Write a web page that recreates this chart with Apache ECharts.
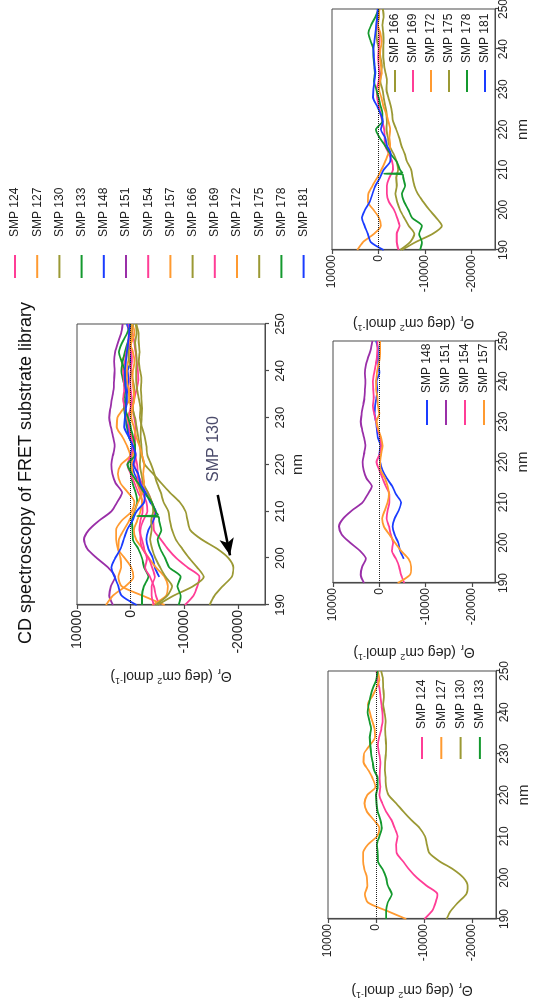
<!DOCTYPE html>
<html>
<head>
<meta charset="utf-8">
<script src="https://cdn.jsdelivr.net/npm/echarts@6/dist/echarts.min.js"></script>
<style>
  html, body { margin: 0; padding: 0; background: #fff; overflow: hidden; width: 535px; height: 1005px; }
  /* The figure is laid out landscape and turned a quarter turn counter-clockwise */
  #fig { position: absolute; left: 0; top: 0; width: 1005px; height: 535px;
         transform-origin: 0 0; transform: translate(0px, 1005px) rotate(-90deg); background: #fff; }
</style>
</head>
<body>
<div id="fig"></div>
<script>
// Wavelength grid (nm)
const nm = [190,192,194,196,198,200,202,204,206,208,210,212,214,216,218,220,222,224,226,228,230,232,234,236,238,240,242,244,246,248,250];
const nm148 = [196,198,200,202,204,206,208,210,212,214,216,218,220,222,224,226,228,230,232,234,236,238,240,242,244,246,248,250];
const nm178 = [190,192,194,196,198,200,202,204,206,208,208.8,209,209.2,210,212,214,216,218,220,222,224,226,228,230,232,234,236,238,240,242,244,246,248,250];

// Mean residue ellipticity (deg cm2 dmol-1)
const smp124 = [-10100,-11700,-12400,-12800,-10600,-8500,-6900,-5600,-4300,-4200,-4500,-3900,-3200,-2100,-1300,-700,-900,-750,-800,-900,-650,-400,-650,-1100,-1400,-1350,-1100,-900,-700,-350,-100];
const smp127 = [-6300,-2200,1700,2300,1800,1900,2400,2700,2700,1700,-200,-700,500,1900,2400,1800,100,700,1600,2600,2500,1300,200,300,800,1300,1700,700,-100,-700,-350];
const smp130 = [-14700,-15600,-17100,-18800,-19100,-18200,-16100,-13200,-11100,-10600,-10200,-9100,-7300,-5700,-4200,-2600,-2100,-2000,-1850,-1900,-2050,-2100,-2000,-1900,-2000,-1750,-1500,-1650,-1500,-1450,-1050];
const smp133 = [-2100,-2100,-2450,-3300,-2500,-2100,-1400,-400,-350,-200,-700,-1200,-900,-350,-100,0,-350,-350,400,700,1000,1200,1300,1000,1400,1750,1500,1100,600,-100,-350];
const smp148 = [-5300,-4500,-4100,-3300,-2900,-3300,-4200,-4700,-3600,-2800,-1600,-700,-200,0,-300,300,500,700,1000,900,600,400,600,0,200,300,300,700];
const smp151 = [3300,4000,3700,2900,4200,6300,8100,8700,7800,5900,3600,2500,1600,2800,3400,3600,3300,3000,3300,3700,4000,3800,3500,3200,3100,3000,3100,2900,2400,1800,1500];
const smp154 = [-5400,-4700,-4300,-3600,-2700,-3000,-2500,-2100,-1600,-1800,-2200,-2200,-1400,-700,0,600,-100,-400,-200,300,700,1100,1400,1200,1300,1400,1100,800,500,400,400];
const smp157 = [-4000,-6600,-6900,-6300,-4700,-3400,-2200,-1000,-600,-1200,-1800,-2100,-1800,-1200,-300,-200,-400,-700,-400,200,600,0,300,400,700,700,500,200,-100,-200,-200];
const smp166 = [-4600,-6800,-7700,-6500,-5500,-4600,-4000,-3600,-3900,-3800,-4200,-3900,-3200,-2300,-2000,-1700,-1800,-1700,-1400,-1100,-800,-400,-500,-700,-400,-100,300,500,300,-100,0];
const smp169 = [-4300,-3900,-3900,-4500,-4000,-3300,-2200,-1800,-1800,-2300,-3100,-2900,-2200,-1400,-1300,-1200,-800,-400,0,300,400,0,-200,0,100,0,-200,-100,200,300,0];
const smp172 = [4600,3300,1000,-500,-100,1100,2300,2200,1300,300,-600,-1400,-2100,-2500,-2300,-2500,-2100,-1600,-1000,-600,-100,-300,-700,-500,-300,-400,-700,-400,100,0,-200];
const smp175 = [-5000,-8000,-11600,-13600,-12400,-10900,-9600,-8400,-7700,-7300,-7000,-6100,-5600,-4900,-4400,-3800,-3100,-2900,-2600,-2100,-1700,-1800,-1500,-1200,-1000,-1000,-1100,-1000,-800,-1100,-900];
const smp178 = [-8900,-9300,-8700,-9300,-7200,-6400,-5500,-5000,-5700,-5300,-5200,-1200,-5100,-4600,-3900,-2500,-1400,-200,600,-800,-800,-400,0,500,1000,800,900,1100,1100,1700,2200,1600,700,0];
const smp181 = [-1100,1700,2300,3000,3600,2900,1900,1300,700,-300,-1100,-2500,-2600,-1800,-1400,-500,-900,-400,400,1200,1100,900,700,900,1000,1100,900,700,500,300,200];

// Axis ticks
const thetaTicks = [-20000, -10000, 0, 10000];

const PINK = '#ff3d96', ORANGE = '#ff9a30', OLIVE = '#9b9934', GREEN = '#14992e', BLUE = '#1a3cff', PURPLE = '#9a2fa8';

const samples = [
  { name: 'SMP 124', color: PINK,   x: nm,    y: smp124 },
  { name: 'SMP 127', color: ORANGE, x: nm,    y: smp127 },
  { name: 'SMP 130', color: OLIVE,  x: nm,    y: smp130 },
  { name: 'SMP 133', color: GREEN,  x: nm,    y: smp133 },
  { name: 'SMP 148', color: BLUE,   x: nm148, y: smp148 },
  { name: 'SMP 151', color: PURPLE, x: nm,    y: smp151 },
  { name: 'SMP 154', color: PINK,   x: nm,    y: smp154 },
  { name: 'SMP 157', color: ORANGE, x: nm,    y: smp157 },
  { name: 'SMP 166', color: OLIVE,  x: nm,    y: smp166 },
  { name: 'SMP 169', color: PINK,   x: nm,    y: smp169 },
  { name: 'SMP 172', color: ORANGE, x: nm,    y: smp172 },
  { name: 'SMP 175', color: OLIVE,  x: nm,    y: smp175 },
  { name: 'SMP 178', color: GREEN,  x: nm178, y: smp178 },
  { name: 'SMP 181', color: BLUE,   x: nm,    y: smp181 }
];

// Grid 0 = overview of every sample, grids 1-3 = the three sub-groups
const groups = [
  samples.map((s, i) => i),
  [0, 1, 2, 3],
  [4, 5, 6, 7],
  [8, 9, 10, 11, 12, 13]
];

const FONT = "'Liberation Sans', Arial, Helvetica, sans-serif";
const AXIS_COLOR = '#4a4a4a';

const gridBoxes = [
  { left: 400, top: 77,  width: 281, height: 188 },
  { left: 86,  top: 328, width: 248, height: 168 },
  { left: 422, top: 333, width: 242, height: 162 },
  { left: 755, top: 332, width: 241, height: 163 }
];
const thetaLabelSize = [14, 12, 12, 12];
const thetaNameGap = [62, 62, 60, 64];
const nmLabelSize = [13, 12, 12, 12];
const nmLabelMargin = [9, 3, 3, 3];
const nmNameGap = [25, 20, 20, 20];

const thetaName = '{t|Θ}{s|r}{t| (deg cm}{p|2}{t| dmol}{p|-1}{t|)}';

const grids = gridBoxes.map(b => Object.assign({
  show: true, borderColor: AXIS_COLOR, borderWidth: 1, containLabel: false, outerBoundsMode: 'none'
}, b));

const xAxes = gridBoxes.map((b, g) => ({
  type: 'value', gridIndex: g, min: 190, max: 250, interval: 10,
  name: 'nm', nameLocation: 'middle', nameGap: nmNameGap[g],
  nameTextStyle: { fontFamily: FONT, fontSize: 15, color: '#222' },
  axisLine: { show: true, onZero: false, lineStyle: { color: AXIS_COLOR, width: 1.2 } },
  axisTick: { show: true, inside: false, length: 4, lineStyle: { color: AXIS_COLOR, width: 1.2 } },
  axisLabel: { fontFamily: FONT, fontSize: nmLabelSize[g], color: '#222', margin: nmLabelMargin[g] },
  splitLine: { show: false }
}));

const yAxes = gridBoxes.map((b, g) => ({
  type: 'value', gridIndex: g, min: -25000, max: 10000,
  name: thetaName, nameLocation: 'middle', nameRotate: 90, nameGap: thetaNameGap[g],
  nameTextStyle: {
    fontFamily: FONT, fontSize: 14, color: '#222',
    rich: {
      t: { fontFamily: FONT, fontSize: 14, color: '#222', lineHeight: 18 },
      s: { fontFamily: FONT, fontSize: 9, color: '#222', verticalAlign: 'bottom', lineHeight: 18, padding: [0, 1, 0, 0] },
      p: { fontFamily: FONT, fontSize: 9, color: '#222', verticalAlign: 'top', lineHeight: 18 }
    }
  },
  axisLine: { show: true, onZero: false, lineStyle: { color: AXIS_COLOR, width: 1.2 } },
  axisTick: { show: true, inside: false, length: 4, customValues: thetaTicks, lineStyle: { color: AXIS_COLOR, width: 1.2 } },
  axisLabel: { fontFamily: FONT, fontSize: thetaLabelSize[g], color: '#222', margin: 5,
               customValues: thetaTicks, formatter: v => String(v) },
  splitLine: { show: false }
}));

const zeroLine = {
  silent: true, symbol: ['none', 'none'], label: { show: false },
  lineStyle: { type: 'dotted', color: '#222', width: 1 },
  emphasis: { disabled: true },
  data: [{ yAxis: 0 }]
};

const series = [];
groups.forEach((members, g) => {
  members.forEach((idx, k) => {
    const s = samples[idx];
    const item = {
      type: 'line', name: s.name, xAxisIndex: g, yAxisIndex: g,
      data: s.x.map((x, i) => [x, s.y[i]]),
      showSymbol: false, symbol: 'none', smooth: 0.25,
      lineStyle: { color: s.color, width: 1.8 },
      itemStyle: { color: s.color },
      emphasis: { disabled: true },
      z: 2
    };
    if (k === 0) item.markLine = zeroLine;
    if (g === 0 && s.name === 'SMP 130') {
      // pointer to the deep minimum of SMP 130 in the overview
      item.markLine = {
        silent: true, symbol: ['none', 'arrow'], symbolSize: [11, 17],
        label: { show: false },
        lineStyle: { type: 'solid', color: '#000', width: 2.6 },
        emphasis: { disabled: true },
        data: [[{ coord: [213.5, -16200] }, { coord: [200.6, -18500] }]]
      };
      item.markPoint = {
        silent: true, symbol: 'rect', symbolSize: 0,
        label: { show: true, position: 'inside', formatter: 'SMP 130',
                 fontFamily: FONT, fontSize: 16, color: '#4b4b6b' },
        data: [{ coord: [223.3, -15500] }]
      };
    }
    series.push(item);
  });
});

const legendBase = {
  orient: 'vertical', selectedMode: false, icon: 'rect', itemHeight: 2,
  textStyle: { fontFamily: FONT, fontSize: 12, color: '#222' },
  padding: 0
};
const legends = [
  Object.assign({}, legendBase, { left: 727, top: 9, itemWidth: 23, itemGap: 10.2,
    data: samples.map(s => s.name),
    textStyle: Object.assign({}, legendBase.textStyle, { padding: [0, 0, 0, 13] }) }),
  Object.assign({}, legendBase, { left: 246, top: 416, itemWidth: 22, itemGap: 7.3,
    data: groups[1].map(i => samples[i].name),
    textStyle: Object.assign({}, legendBase.textStyle, { padding: [0, 0, 0, 3] }) }),
  Object.assign({}, legendBase, { left: 580, top: 421, itemWidth: 25, itemGap: 7,
    data: groups[2].map(i => samples[i].name),
    textStyle: Object.assign({}, legendBase.textStyle, { padding: [0, 0, 0, 2] }) }),
  Object.assign({}, legendBase, { left: 913, top: 389, itemWidth: 22, itemGap: 6,
    data: groups[3].map(i => samples[i].name),
    textStyle: Object.assign({}, legendBase.textStyle, { padding: [0, 0, 0, 2] }) })
];

const chart = echarts.init(document.getElementById('fig'), null, { renderer: 'canvas' });
chart.setOption({
  animation: false,
  backgroundColor: '#fff',
  textStyle: { fontFamily: FONT },
  graphic: [{
    type: 'text', x: 532, y: 17, silent: true,
    style: { text: 'CD spectroscopy of FRET substrate library', fontFamily: FONT, fontSize: 18,
             fill: '#111', align: 'center', verticalAlign: 'top' }
  }],
  legend: legends,
  grid: grids,
  xAxis: xAxes,
  yAxis: yAxes,
  series: series
});
</script>
</body>
</html>
